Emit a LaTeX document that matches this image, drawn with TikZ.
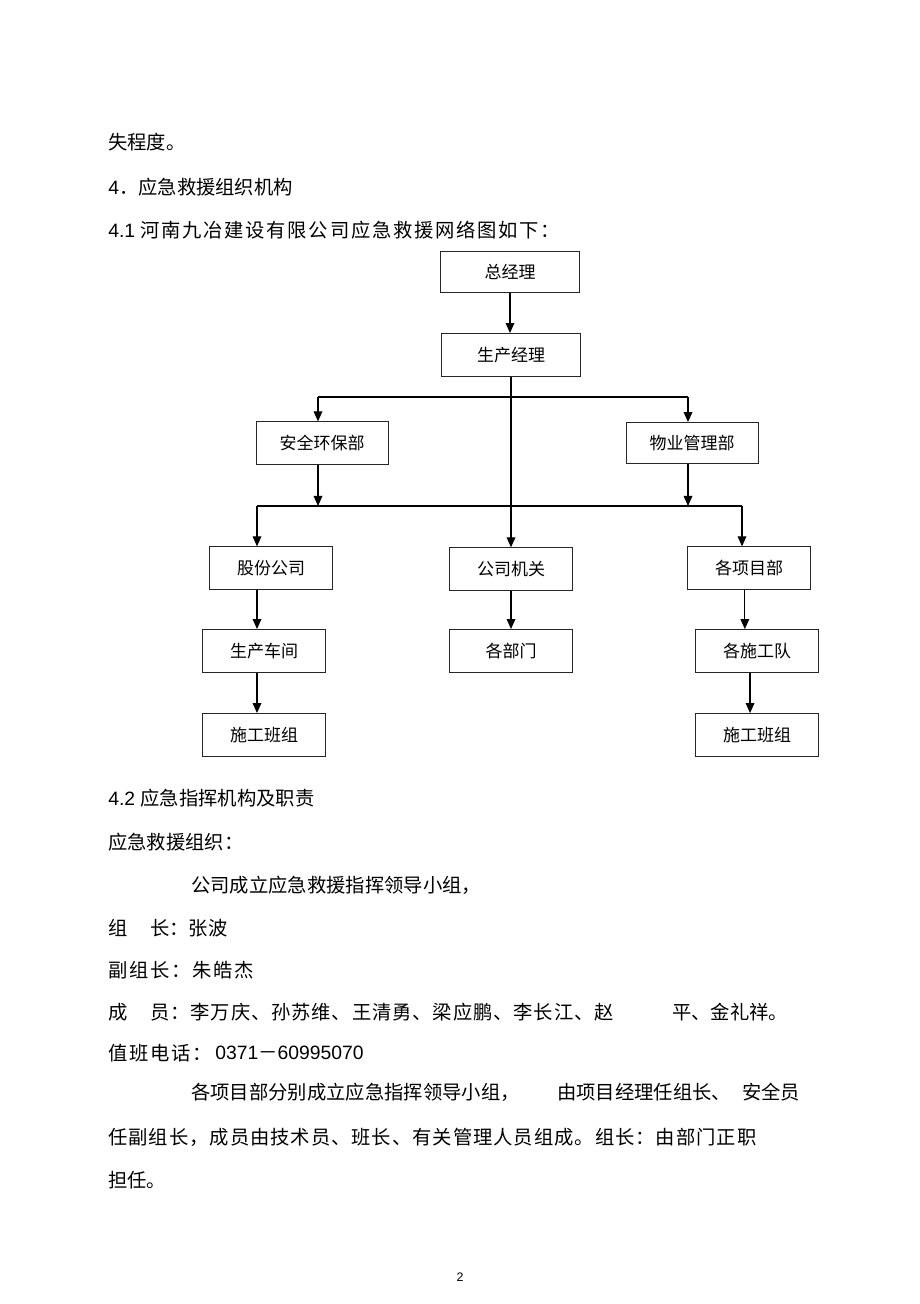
\documentclass[tikz,border=0pt]{standalone}
\usepackage{fontspec}
\setmainfont{Liberation Sans}
\newfontfamily\cjk{Noto Sans CJK SC}
\usetikzlibrary{arrows.meta}

\begin{document}
\begin{tikzpicture}[x=0.6471pt,y=-0.6471pt]
\useasboundingbox[fill=white] (0,0) rectangle (920,1304);
\tikzstyle{every node}=[inner sep=0pt];
\tikzstyle{box}=[draw=black!85,line width=0.6pt,minimum width=79.6pt,minimum height=27.4pt,font=\fontsize{11}{13}\cjk];
\tikzstyle{txt}=[anchor=west,font=\fontsize{12.5}{15}\cjk];
\tikzstyle{arr}=[line width=0.8pt,-{Triangle[length=6.5pt,width=5.6pt]}];

% text above the chart
\node[txt] (t1) at (108,142) {失程度。};
\node[txt] (t2) at (108,187) {{\rmfamily 4}．应急救援组织机构};
\node[txt] (t3) at (108,230) {{\rmfamily 4.1 }\addfontfeature{LetterSpace=9}河南九冶建设有限公司应急救援网络图如下：};

% the chart
\node[box,minimum width=90pt,minimum height=26.5pt] (zjl) at (510,272) {总经理};
\node[box,minimum width=90pt,minimum height=27.8pt] (scjl) at (511,355) {生产经理};
\node[box,minimum width=85.4pt] (aqhb) at (322,443) {安全环保部};
\node[box,minimum width=85.4pt,minimum height=26.5pt] (wygl) at (692,443) {物业管理部};
\node[box] (gfgs) at (271,568) {股份公司};
\node[box] (gsjg) at (511,569) {公司机关};
\node[box] (gxmb) at (749,568) {各项目部};
\node[box,minimum height=27.8pt] (sccj) at (264,651) {生产车间};
\node[box,minimum height=27.8pt] (gbm) at (511,651) {各部门};
\node[box,minimum height=27.8pt] (gsgd) at (757,651) {各施工队};
\node[box,minimum height=27.8pt] (bzl) at (264,735) {施工班组};
\node[box,minimum height=27.8pt] (bzr) at (757,735) {施工班组};

\coordinate (b1l) at (318,397);
\coordinate (b1r) at (688,397);
\coordinate (b2l) at (257,506);
\coordinate (b2r) at (742,506);

\draw[arr] (zjl.south) -- (zjl.south |- scjl.north);
\draw[arr] (scjl.south) -- (scjl.south |- gsjg.north);
\draw[line width=0.8pt] (b1l) -- (b1r);
\draw[arr] (b1l) -- (b1l |- aqhb.north);
\draw[arr] (b1r) -- (b1r |- wygl.north);
\draw[arr] (aqhb.south -| b1l) -- (b1l |- b2l);
\draw[arr] (wygl.south -| b1r) -- (b1r |- b2r);
\draw[line width=0.8pt] (b2l) -- (b2r);
\draw[arr] (b2l) -- (b2l |- gfgs.north);
\draw[arr] (b2r) -- (b2r |- gxmb.north);
\draw[arr] (gfgs.south -| b2l) -- (b2l |- sccj.north);
\draw[arr] (sccj.south -| b2l) -- (b2l |- bzl.north);
\draw[arr] (gsjg.south) -- (gbm.north);
\draw[arr] ([xshift=-2.7pt]gxmb.south) -- ([xshift=-2.7pt]gxmb.south |- gsgd.north);
\draw[arr] ([xshift=-4.5pt]gsgd.south) -- ([xshift=-4.5pt]bzr.north);

% text below the chart
\node[txt] (t4) at (108,798) {{\rmfamily 4.2 }应急指挥机构及职责};
\node[txt] (t5) at (108,842) {应急救援组织：};
\node[txt] (t6) at (191,885) {公司成立应急救援指挥领导小组，};
\node[txt] (t7a) at (108,928) {组};
\node[txt] (t7b) at (150,928) {长：张波};
\node[txt] (t8) at (108,970) {\addfontfeature{LetterSpace=9}副组长：朱皓杰};
\node[txt] (t9a) at (108,1012) {成};
\node[txt] (t9b) at (150,1012) {\addfontfeature{LetterSpace=4.5}员：李万庆、孙苏维、王清勇、梁应鹏、李长江、赵};
\node[txt] (t9c) at (672,1012) {平、金礼祥。};
\node[txt] (t10a) at (108,1053) {\addfontfeature{LetterSpace=9}值班电话：};
\node[txt] (t10b) at (215,1053) {{\rmfamily 0371}－{\rmfamily 60995070}};
\node[txt] (t11a) at (191,1092) {各项目部分别成立应急指挥领导小组，};
\node[txt] (t11b) at (557,1092) {由项目经理任组长、};
\node[txt] (t11c) at (742,1092) {安全员};
\node[txt] (t12) at (108,1137) {\addfontfeature{LetterSpace=5}任副组长，成员由技术员、班长、有关管理人员组成。组长：由部门正职};
\node[txt] (t13) at (108,1180) {担任。};
\node[font=\fontsize{8}{10}\selectfont] (pg) at (460,1277) {2};
\end{tikzpicture}
\end{document}
